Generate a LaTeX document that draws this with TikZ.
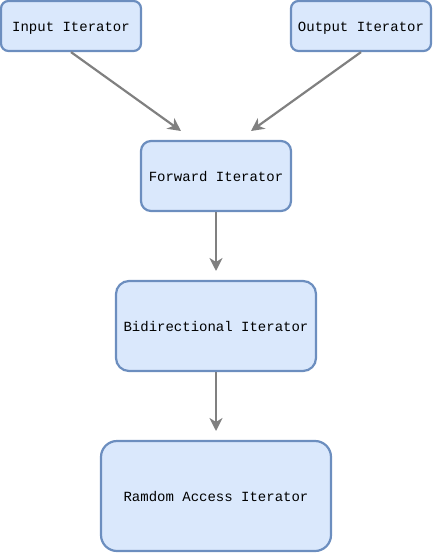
\documentclass[tikz,border=0pt]{standalone}
\usepackage{fontspec}
\setmonofont{Liberation Mono}
\usetikzlibrary{arrows.meta}
\definecolor{boxfill}{HTML}{DAE8FC}
\definecolor{boxline}{HTML}{6C8EBF}
\definecolor{arrowgray}{HTML}{808080}
\tikzset{
  itbox/.style={draw=boxline, fill=boxfill, line width=2.2pt, inner sep=0pt,
    font=\ttfamily\fontsize{14}{16}\selectfont, align=center,
    text height=11.5pt, text depth=0pt},
  conn/.style={draw=arrowgray, line width=2.2pt,
    -{Stealth[length=13pt, width=13pt, inset=4pt]}, shorten >=0pt}
}
\begin{document}
\begin{tikzpicture}[x=1pt, y=-1pt]
\useasboundingbox (0,0) rectangle (433,553);
\node[itbox, minimum width=140pt, minimum height=50pt, rounded corners=7.5pt] (in) at (71,26) {Input Iterator};
\node[itbox, minimum width=140pt, minimum height=50pt, rounded corners=7.5pt] (out) at (361,26) {Output Iterator};
\node[itbox, minimum width=150pt, minimum height=70pt, rounded corners=10pt] (fwd) at (216,176) {Forward Iterator};
\node[itbox, minimum width=200pt, minimum height=90pt, rounded corners=13pt] (bi) at (216,326) {Bidirectional Iterator};
\node[itbox, minimum width=230pt, minimum height=110pt, rounded corners=16pt] (ra) at (216,496) {Ramdom Access Iterator};
\coordinate (fa) at (181,131);
\coordinate (fb) at (251,131);
\coordinate (bt) at (216,271);
\coordinate (rt) at (216,431);
\draw[conn] (in.south) -- (fa);
\draw[conn] (out.south) -- (fb);
\draw[conn] (fwd.south) -- (bt);
\draw[conn] (bi.south) -- (rt);
\end{tikzpicture}
\end{document}
